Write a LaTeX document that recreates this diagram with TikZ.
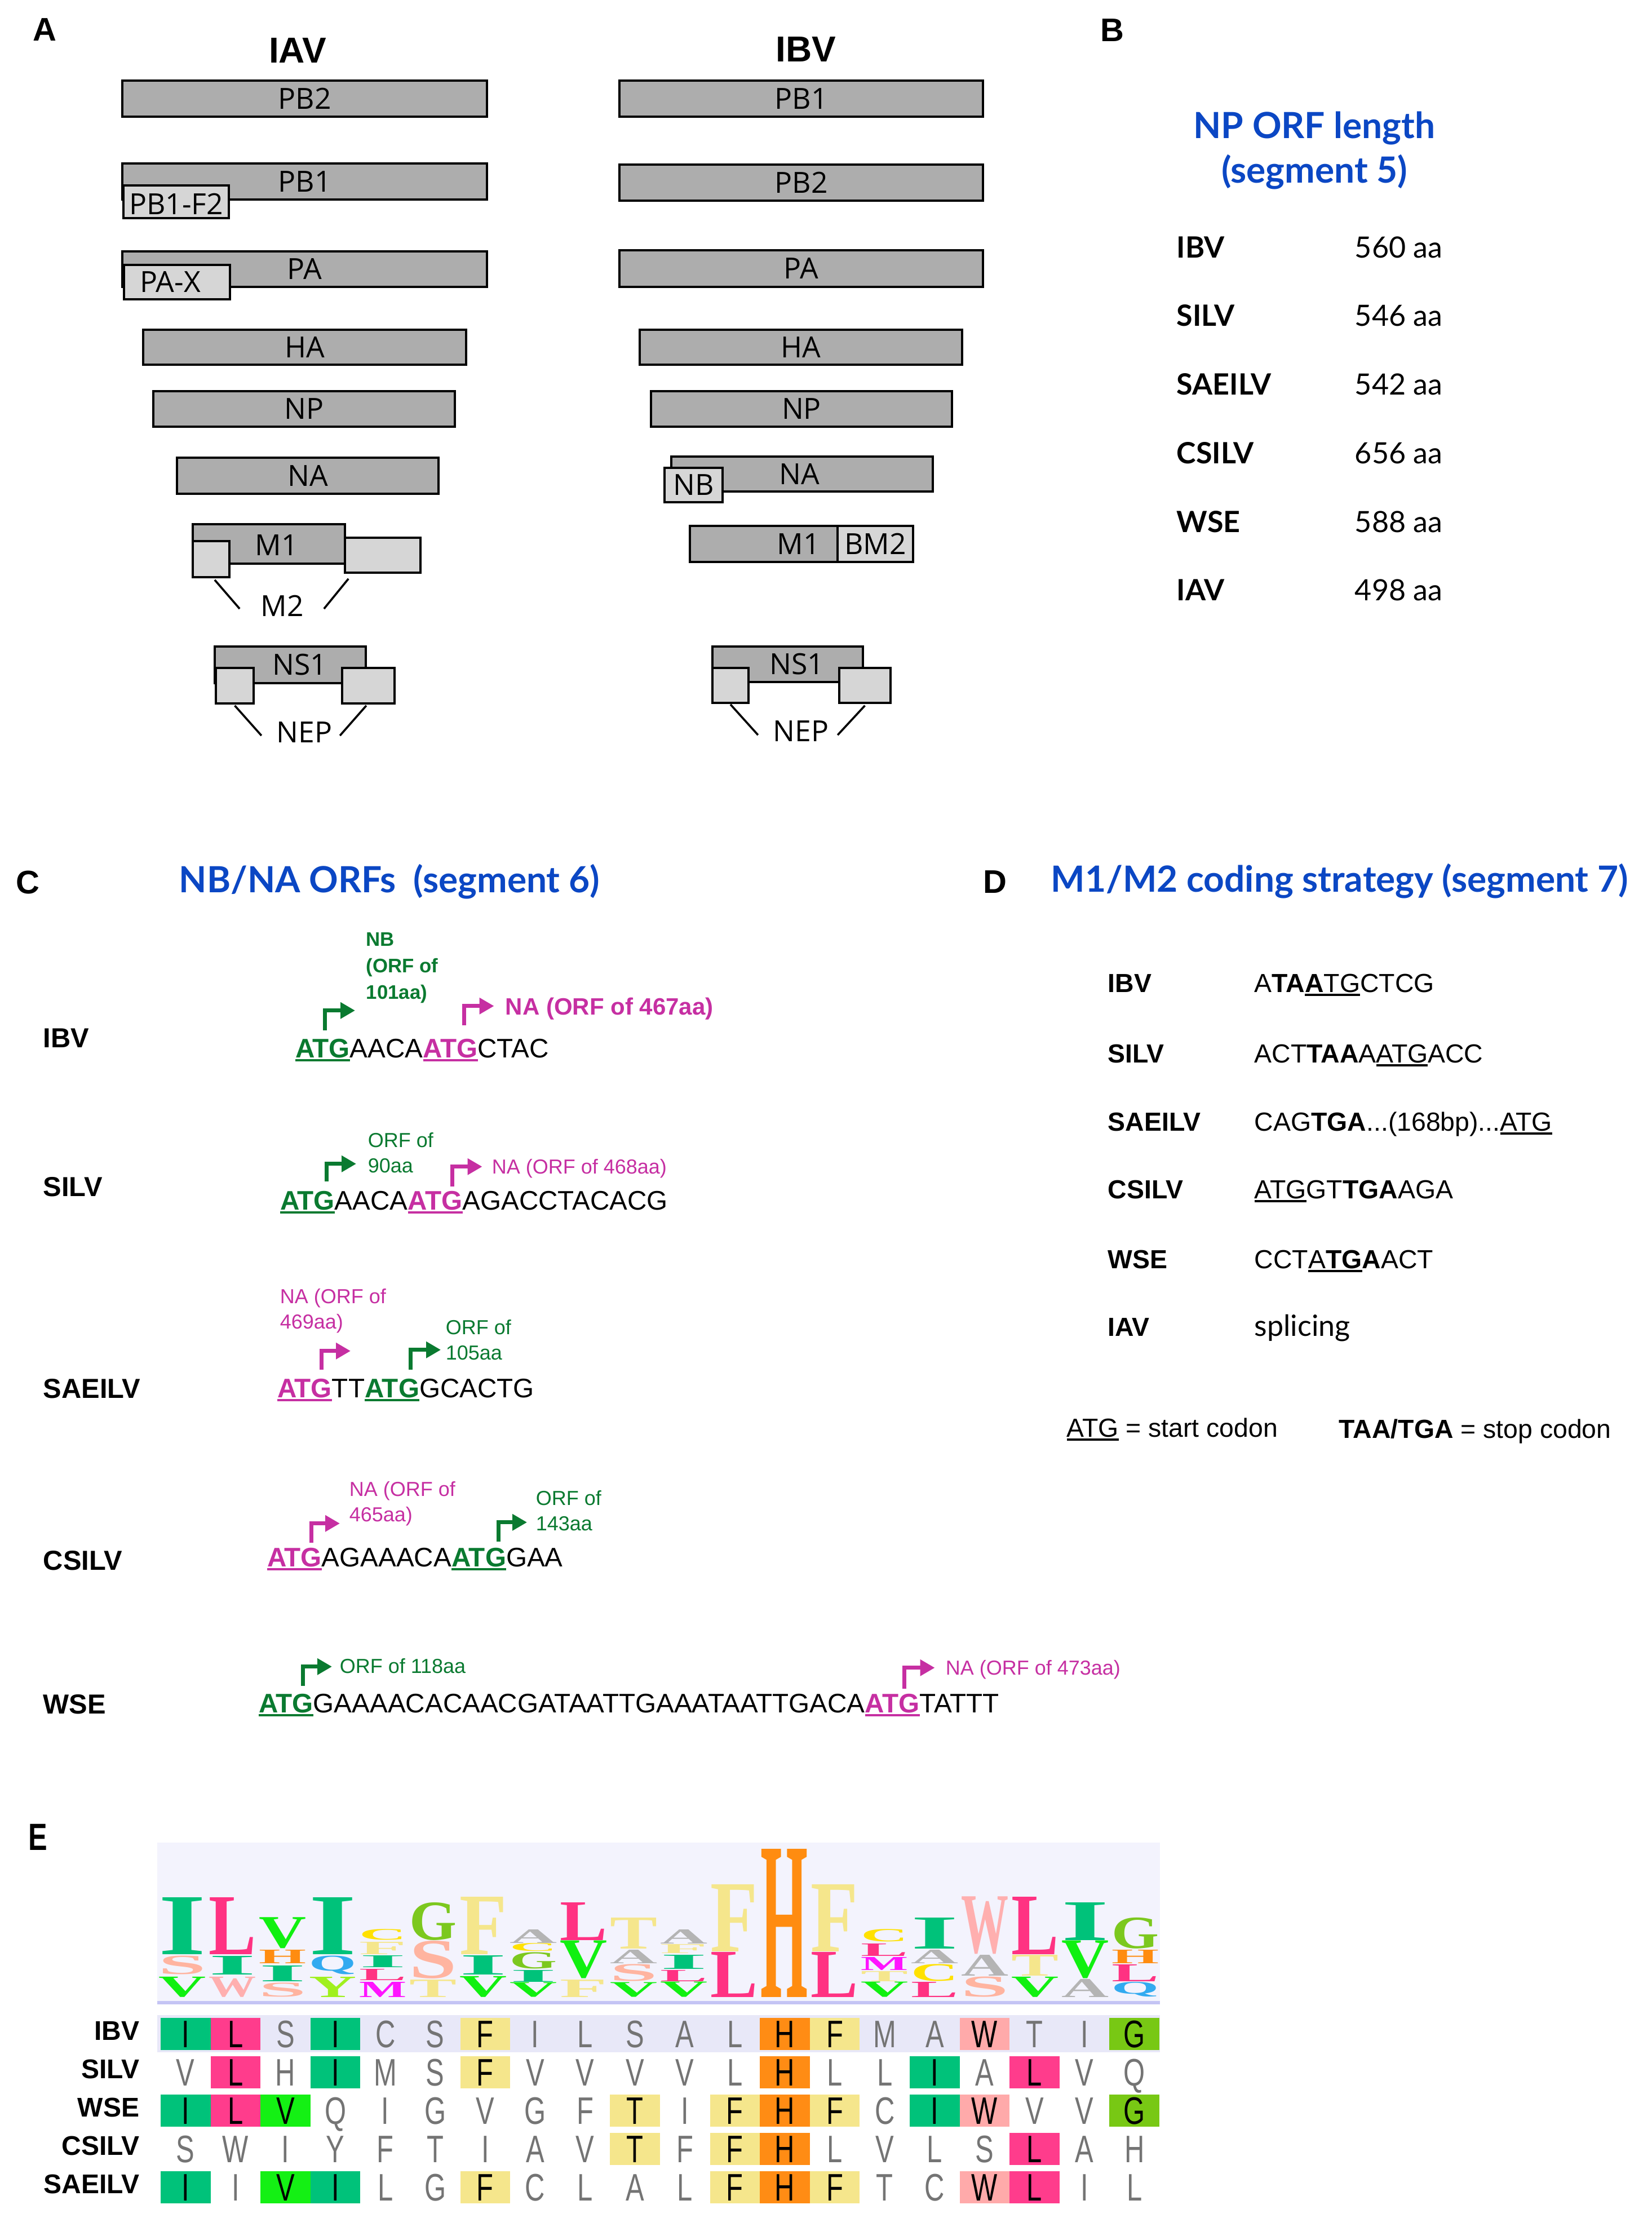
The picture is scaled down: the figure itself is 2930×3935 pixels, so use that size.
\documentclass[tikz,border=0pt]{standalone}
\usepackage{fontspec}
\usepackage{graphicx}
\usetikzlibrary{arrows.meta,fit,calc}
\setmainfont{Liberation Sans}
\newfontfamily\latof{Lato}
\newfontfamily\opsf{Open Sans}
\newfontfamily\serf{Liberation Serif}
\newfontfamily\alnf{Liberation Sans}[FakeStretch=0.72]
\newfontfamily\narf{Liberation Sans}[FakeStretch=0.75]
\newcommand\fsz[2]{\fontsize{#1pt}{#2pt}\selectfont}
\newcommand\ulin[1]{{\setbox0=\hbox{#1}\rlap{\rule[-1.7pt]{\wd0}{0.85pt}}\box0}}
\definecolor{gdark}{HTML}{ADADAD}
\definecolor{glight}{HTML}{D6D6D6}
\definecolor{tblue}{HTML}{0B47C4}
\definecolor{cgreen}{HTML}{0A7A30}
\definecolor{cmag}{HTML}{C62FA2}
\definecolor{logobg}{HTML}{F3F3FD}
\definecolor{logoline}{HTML}{C4C4F4}
\definecolor{rowbg}{HTML}{E8E8F8}
\definecolor{tk}{HTML}{000000}
\definecolor{tg}{HTML}{747474}
\definecolor{aI}{HTML}{00C27A}
\definecolor{aL}{HTML}{FF3C8C}
\definecolor{aV}{HTML}{14F014}
\definecolor{aF}{HTML}{F5E68C}
\definecolor{aH}{HTML}{FF8C14}
\definecolor{aW}{HTML}{FFAAAA}
\definecolor{aG}{HTML}{78C814}
\definecolor{lI}{HTML}{00C27A}
\definecolor{lL}{HTML}{FF3282}
\definecolor{lV}{HTML}{10F010}
\definecolor{lH}{HTML}{FF8C10}
\definecolor{lS}{HTML}{FFB4A0}
\definecolor{lW}{HTML}{FFAFAF}
\definecolor{lF}{HTML}{F5E68C}
\definecolor{lT}{HTML}{F5E68C}
\definecolor{lG}{HTML}{7CC81E}
\definecolor{lA}{HTML}{B4B4B4}
\definecolor{lC}{HTML}{FFE100}
\definecolor{lQ}{HTML}{32AAF0}
\definecolor{lY}{HTML}{A0F01E}
\definecolor{lM}{HTML}{FF14FF}
\newcommand\gATG{{\color{cgreen}\bfseries\ulin{ATG}}}
\newcommand\mATG{{\color{cmag}\bfseries\ulin{ATG}}}
\tikzset{
 gbox/.style={draw=black, line width=0.9pt, fill=gdark, inner sep=0pt},
 lbox/.style={draw=black, line width=0.9pt, fill=glight, inner sep=0pt},
 glab/.style={font=\opsf\fsz{12.9}{15}, inner sep=0pt, text height=9.2pt, text depth=0pt},
 sline/.style={line width=0.9pt},
 panel/.style={font=\bfseries\fsz{14.5}{17}, inner sep=0pt, anchor=base},
 vtitle/.style={font=\bfseries\fsz{16}{19}, inner sep=0pt, anchor=base},
 btitle/.style={font=\latof\bfseries\fsz{16}{19}, text=tblue, inner sep=0pt, anchor=base},
 blab/.style={font=\latof\bfseries\fsz{13}{15}, inner sep=0pt, anchor=base west},
 bval/.style={font=\latof\fsz{13}{15}, inner sep=0pt, anchor=base west},
 ctitle/.style={font=\latof\bfseries\fsz{16}{19}, text=tblue, inner sep=0pt, anchor=base west},
 rowlab/.style={font=\bfseries\fsz{12.2}{14}, inner sep=0pt, anchor=base west},
 seqn/.style={font=\fsz{11.9}{14}, inner sep=0pt, outer sep=0pt, anchor=base west},
 glbl/.style={font=\fsz{9}{11.25}, text=cgreen, inner sep=0pt, anchor=base west, align=left},
 mlbl/.style={font=\fsz{9}{11.25}, text=cmag, inner sep=0pt, anchor=base west, align=left},
 garr/.style={draw=cgreen, line width=1.75pt, -{Triangle[length=6.5pt,width=7pt]}},
 marr/.style={draw=cmag, line width=1.75pt, -{Triangle[length=6.5pt,width=7pt]}},
 dlab/.style={font=\bfseries\fsz{11.6}{14}, inner sep=0pt, anchor=base west},
 dseq/.style={font=\fsz{11.6}{14}, inner sep=0pt, anchor=base west},
 alnl/.style={font=\alnf\fsz{17}{20}, inner sep=0pt, text height=12.2pt, text depth=0pt},
 elab/.style={font=\bfseries\fsz{12}{14}, inner sep=0pt, anchor=east, text height=8.6pt, text depth=0pt},
 cI/.style={fill=aI}, cL/.style={fill=aL}, cV/.style={fill=aV}, cF/.style={fill=aF},
 cH/.style={fill=aH}, cW/.style={fill=aW}, cG/.style={fill=aG}, c0/.style={},
}
\newcommand\alnrow[3]{%
 \node[elab] (elab#1) at (248,{3602+68*(#1-1)}) {#2};
 \foreach \L/\C/\T [count=\i] in {#3}{%
   \pgfmathsetmacro\xa{285+88.6*(\i-1)}%
   \pgfmathsetmacro\ya{3580+68*(#1-1)}%
   \path[\C] (\xa,\ya) rectangle ++(88.6,57);
   \node[alnl,text=\T] (al#1-\i) at (\xa+44.3,\ya+28.5) {\L};
 }}
\begin{document}
\begin{tikzpicture}[x=0.25pt,y=-0.25pt]
\useasboundingbox (0,0) rectangle (2930,3935);
\fill[white] (0,0) rectangle (2930,3935);

% ---------------- Panel A ----------------
\node[panel] (pA) at (79,73) {A};
\node[vtitle] (tIAV) at (528,112) {IAV};
\node[vtitle] (tIBV) at (1430,110) {IBV};

% IAV
\node[gbox, fit={(217,143) (864,207)}] (aPB2) {};
\node[glab] (aPB2t) at (aPB2.center) {PB2};
\node[gbox, fit={(217,290) (864,354)}] (aPB1) {};
\node[glab] (aPB1t) at (aPB1.center) {PB1};
\node[lbox, fit={(219,329) (406,387)}] (aPBF) {};
\node[glab] (aPBFt) at ([yshift=-1pt]aPBF.center) {PB1-F2};
\node[gbox, fit={(217,446) (864,509)}] (aPA) {};
\node[glab] (aPAt) at (aPA.center) {PA};
\node[lbox, fit={(220,470) (408,531)}] (aPAX) {};
\node[glab] (aPAXt) at ([xshift=-3pt]aPAX.center) {PA-X};
\node[gbox, fit={(254,585) (827,647)}] (aHA) {};
\node[glab] (aHAt) at (aHA.center) {HA};
\node[gbox, fit={(272,694) (807,757)}] (aNP) {};
\node[glab] (aNPt) at (aNP.center) {NP};
\node[gbox, fit={(314,812) (778,876)}] (aNA) {};
\node[glab] (aNAt) at (aNA.center) {NA};
\node[gbox, fit={(342,930) (612,1000)}] (aM1) {};
\node[glab] (aM1t) at ([xshift=3.5pt,yshift=-0.5pt]aM1.center) {M1};
\node[lbox, fit={(342,960) (407,1024)}] (aM2l) {};
\node[lbox, fit={(612,954) (746,1016)}] (aM2r) {};
\node[glab] (aM2t) at (501,1075) {M2};
\draw[sline] ([xshift=1.6pt,yshift=-0.75pt]aM2l.south) -- ([xshift=-9.25pt,yshift=-1.25pt]aM2t.west);
\draw[sline] ([xshift=2pt,yshift=-2.25pt]aM2r.south west) -- ([xshift=8.75pt,yshift=-1.25pt]aM2t.east);
\node[gbox, fit={(381,1147) (649,1212)}] (aNS1) {};
\node[glab] (aNS1t) at ([xshift=4.25pt]aNS1.center) {NS1};
\node[lbox, fit={(383,1185) (450,1248)}] (aNl) {};
\node[lbox, fit={(607,1185) (700,1248)}] (aNr) {};
\node[glab] (aNEP) at (540,1299) {NEP};
\draw[sline] ([yshift=-0.5pt]aNl.south) -- ([xshift=-6.5pt,yshift=-1.5pt]aNEP.west);
\draw[sline] ([xshift=-0.9pt,yshift=-0.5pt]aNr.south) -- ([xshift=3.25pt,yshift=-1.5pt]aNEP.east);

% IBV
\node[gbox, fit={(1099,143) (1744,207)}] (bPB1) {};
\node[glab] (bPB1t) at (bPB1.center) {PB1};
\node[gbox, fit={(1099,292) (1744,356)}] (bPB2) {};
\node[glab] (bPB2t) at (bPB2.center) {PB2};
\node[gbox, fit={(1099,444) (1744,509)}] (bPA) {};
\node[glab] (bPAt) at (bPA.center) {PA};
\node[gbox, fit={(1135,585) (1707,647)}] (bHA) {};
\node[glab] (bHAt) at (bHA.center) {HA};
\node[gbox, fit={(1155,694) (1689,757)}] (bNP) {};
\node[glab] (bNPt) at (bNP.center) {NP};
\node[gbox, fit={(1191,810) (1655,872)}] (bNA) {};
\node[glab] (bNAt) at ([xshift=-1.25pt]bNA.center) {NA};
\node[lbox, fit={(1179,830) (1282,891)}] (bNB) {};
\node[glab] (bNBt) at (bNB.center) {NB};
\node[gbox, fit={(1224,933) (1486,997)}] (bM1) {};
\node[glab] (bM1t) at ([xshift=15.5pt]bM1.center) {M1};
\node[lbox, fit={(1486,933) (1620,997)}] (bBM2) {};
\node[glab] (bBM2t) at (bBM2.center) {BM2};
\node[gbox, fit={(1264,1147) (1531,1210)}] (bNS1) {};
\node[glab] (bNS1t) at ([xshift=4pt]bNS1.center) {NS1};
\node[lbox, fit={(1264,1185) (1328,1247)}] (bNl) {};
\node[lbox, fit={(1489,1185) (1580,1247)}] (bNr) {};
\node[glab] (bNEP) at (1421,1297) {NEP};
\draw[sline] ([yshift=-0.25pt]bNl.south) -- ([xshift=-6.5pt,yshift=-1.75pt]bNEP.west);
\draw[sline] ([yshift=-0.75pt]bNr.south) -- ([xshift=3.75pt,yshift=-1.75pt]bNEP.east);

% ---------------- Panel B ----------------
\node[panel] (pB) at (1973,74) {B};
\node[btitle] (bT1) at (2332,246) {NP ORF length};
\node[btitle] (bT2) at (2332,325) {(segment 5)};
\node[blab] (bl1) at (2087,458) {IBV};    \node[bval] (bv1) at (2403,458) {560 aa};
\node[blab] (bl2) at (2087,579) {SILV};   \node[bval] (bv2) at (2403,579) {546 aa};
\node[blab] (bl3) at (2087,701) {SAEILV}; \node[bval] (bv3) at (2403,701) {542 aa};
\node[blab] (bl4) at (2087,823) {CSILV};  \node[bval] (bv4) at (2403,823) {656 aa};
\node[blab] (bl5) at (2087,945) {WSE};    \node[bval] (bv5) at (2403,945) {588 aa};
\node[blab] (bl6) at (2087,1066) {IAV};   \node[bval] (bv6) at (2403,1066) {498 aa};

% ---------------- Panel C ----------------
\node[panel] (pC) at (49,1585) {C};
\node[ctitle] (cT) at (317,1583) {NB/NA ORFs\ \ (segment 6)};
% IBV
\node[rowlab] (cr1) at (76,1858) {IBV};
\node[seqn] (c1a) at (524,1876) {\gATG};
\node[seqn] (c1b) at (c1a.base east) {AACA};
\node[seqn] (c1c) at (c1b.base east) {\mATG};
\node[seqn] (c1d) at (c1c.base east) {CTAC};
\node[glbl, font=\bfseries\fsz{8.7}{11.75}] (c1g) at (649,1772) {NB\\(ORF of\\101aa)};
\node[mlbl, font=\bfseries\fsz{10.5}{12}] (c1m) at (896,1800) {NA (ORF of 467aa)};
\draw[garr] ([shift={(52,-15)}]c1a.north west) -- ++(0,-35) -- ++(54,0);
\draw[marr] ([shift={(73,-24)}]c1c.north west) -- ++(0,-34) -- ++(53,0);
% SILV
\node[rowlab] (cr2) at (76,2122) {SILV};
\node[seqn] (c2a) at (497,2146) {\gATG};
\node[seqn] (c2b) at (c2a.base east) {AACA};
\node[seqn] (c2c) at (c2b.base east) {\mATG};
\node[seqn] (c2d) at (c2c.base east) {AGACCTACACG};
\node[glbl] (c2g) at (652,2080) {ORF of\\90aa};
\node[mlbl] (c2m) at (872,2082) {NA (ORF of 468aa)};
\draw[garr] ([shift={(82,-17)}]c2a.north west) -- ++(0,-31) -- ++(53,0);
\draw[marr] ([shift={(79,-8)}]c2c.north west) -- ++(0,-35) -- ++(53,0);
% SAEILV
\node[rowlab] (cr3) at (76,2480) {SAEILV};
\node[seqn] (c3a) at (492,2479) {\mATG};
\node[seqn] (c3b) at (c3a.base east) {TT};
\node[seqn] (c3c) at (c3b.base east) {\gATG};
\node[seqn] (c3d) at (c3c.base east) {GCACTG};
\node[mlbl] (c3m) at (496,2357) {NA (ORF of\\469aa)};
\node[glbl] (c3g) at (790,2412) {ORF of\\105aa};
\draw[marr] ([shift={(78,-16)}]c3a.north west) -- ++(0,-33) -- ++(52,0);
\draw[garr] ([shift={(81,-16)}]c3c.north west) -- ++(0,-35) -- ++(54,0);
% CSILV
\node[rowlab] (cr4) at (76,2785) {CSILV};
\node[seqn] (c4a) at (474,2779) {\mATG};
\node[seqn] (c4b) at (c4a.base east) {AGAAACA};
\node[seqn] (c4c) at (c4b.base east) {\gATG};
\node[seqn] (c4d) at (c4c.base east) {GAA};
\node[mlbl] (c4m) at (619,2699) {NA (ORF of\\465aa)};
\node[glbl] (c4g) at (950,2715) {ORF of\\143aa};
\draw[marr] ([shift={(78,-9)}]c4a.north west) -- ++(0,-34) -- ++(51,0);
\draw[garr] ([shift={(83,-11)}]c4c.north west) -- ++(0,-34) -- ++(51,0);
% WSE
\node[rowlab] (cr5) at (76,3040) {WSE};
\node[seqn] (c5a) at (459,3038) {\gATG};
\node[seqn] (c5b) at (c5a.base east) {GAAAACACAACGATAATTGAAATAATTGACA};
\node[seqn] (c5c) at (c5b.base east) {\mATG};
\node[seqn] (c5d) at (c5c.base east) {TATTT};
\node[glbl] (c5g) at (602,2968) {ORF of 118aa};
\node[mlbl] (c5m) at (1677,2971) {NA (ORF of 473aa)};
\draw[garr] ([shift={(78,-14)}]c5a.north west) -- ++(0,-34) -- ++(52,0);
\draw[marr] ([shift={(70,-9)}]c5c.north west) -- ++(0,-37) -- ++(54,0);

% ---------------- Panel D ----------------
\node[panel] (pD) at (1765,1584) {D};
\node[ctitle] (dT) at (1864,1582) {M1/M2 coding strategy (segment 7)};
\node[dlab] (dl1) at (1965,1760) {IBV};
\node[dseq] (ds1) at (2225,1760) {A\textbf{TA}\ulin{\textbf{A}TG}CTCG};
\node[dlab] (dl2) at (1965,1885) {SILV};
\node[dseq] (ds2) at (2225,1885) {ACT\textbf{TAA}A\ulin{ATG}ACC};
\node[dlab] (dl3) at (1965,2006) {SAEILV};
\node[dseq] (ds3) at (2225,2006) {CAG\textbf{TGA}...(168bp)...\ulin{ATG}};
\node[dlab] (dl4) at (1965,2126) {CSILV};
\node[dseq] (ds4) at (2225,2126) {\ulin{ATG}GT\textbf{TGA}AGA};
\node[dlab] (dl5) at (1965,2250) {WSE};
\node[dseq] (ds5) at (2225,2250) {CCT\ulin{A\textbf{TG}}\textbf{A}ACT};
\node[dlab] (dl6) at (1965,2370) {IAV};
\node[dseq, font=\latof\fsz{13}{15}] (ds6) at (2225,2370) {splicing};
\node[dseq] (dk1) at (1892,2549) {\ulin{ATG} = start codon};
\node[dseq] (dk2) at (2375,2551) {\textbf{TAA/TGA} = stop codon};

% ---------------- Panel E ----------------
\node[panel, font=\narf\bfseries\fsz{16.8}{19}] (pE) at (67,3282) {E};
\fill[logobg] (279,3269) rectangle (2058,3556);
\fill[logoline] (279,3550) rectangle (2058,3556);
\foreach \c/\t/\b/\L/\K in {
 1/3366/3467/I/lI, 1/3470/3503/S/lS, 1/3507/3543/V/lV,
 2/3366/3467/L/lL, 2/3470/3503/I/lI, 2/3507/3543/W/lW,
 3/3402/3457/V/lV, 3/3459/3483/H/lH, 3/3487/3515/I/lI, 3/3518/3543/S/lS,
 4/3366/3467/I/lI, 4/3470/3503/Q/lQ, 4/3507/3543/Y/lY,
 5/3423/3442/C/lC, 5/3445/3467/F/lF, 5/3469/3490/I/lI, 5/3493/3513/L/lL, 5/3516/3543/M/lM,
 6/3375/3442/G/lG, 6/3443/3510/S/lS, 6/3512/3543/T/lT,
 7/3365/3467/F/lF, 7/3469/3503/I/lI, 7/3506/3543/V/lV,
 8/3423/3447/A/lA, 8/3448/3462/C/lC, 8/3464/3493/G/lG, 8/3495/3516/I/lI, 8/3517/3543/V/lV,
 9/3375/3442/L/lL, 9/3443/3510/V/lV, 9/3512/3543/F/lF,
 10/3402/3457/T/lT, 10/3459/3483/A/lA, 10/3485/3515/S/lS, 10/3517/3543/V/lV,
 11/3423/3448/A/lA, 11/3449/3465/F/lF, 11/3468/3493/I/lI, 11/3495/3515/L/lL, 11/3516/3543/V/lV,
 12/3343/3462/F/lF, 12/3463/3543/L/lL,
 13/3280/3543/H/lH,
 14/3343/3462/F/lF, 14/3463/3543/L/lL,
 15/3423/3445/C/lC, 15/3448/3470/L/lL, 15/3472/3495/M/lM, 15/3497/3515/T/lT, 15/3516/3543/V/lV,
 16/3402/3457/I/lI, 16/3459/3483/A/lA, 16/3485/3515/C/lC, 16/3516/3543/L/lL,
 17/3365/3467/W/lW, 17/3468/3505/A/lA, 17/3507/3543/S/lS,
 18/3365/3467/L/lL, 18/3468/3505/T/lT, 18/3507/3543/V/lV,
 19/3375/3442/I/lI, 19/3443/3510/V/lV, 19/3511/3543/A/lA,
 20/3402/3457/G/lG, 20/3459/3483/H/lH, 20/3485/3515/L/lL, 20/3517/3543/Q/lQ}{%
  \pgfmathsetlengthmacro\lgh{(\b-\t)*0.25}%
  \pgfmathsetmacro\lgx{278.6+89*(\c-0.5)}%
  \node[inner sep=0pt, outer sep=0pt, anchor=south, text=\K] (lg\c-\t) at (\lgx,\b) {\resizebox*{21pt}{\lgh}{\serf\bfseries \L}};
}
\fill[rowbg] (279,3575) rectangle (2058,3641);
\alnrow{1}{IBV}{I/cI/tk,L/cL/tk,S/c0/tg,I/cI/tk,C/c0/tg,S/c0/tg,F/cF/tk,I/c0/tg,L/c0/tg,S/c0/tg,A/c0/tg,L/c0/tg,H/cH/tk,F/cF/tk,M/c0/tg,A/c0/tg,W/cW/tk,T/c0/tg,I/c0/tg,G/cG/tk}
\alnrow{2}{SILV}{V/c0/tg,L/cL/tk,H/c0/tg,I/cI/tk,M/c0/tg,S/c0/tg,F/cF/tk,V/c0/tg,V/c0/tg,V/c0/tg,V/c0/tg,L/c0/tg,H/cH/tk,L/c0/tg,L/c0/tg,I/cI/tk,A/c0/tg,L/cL/tk,V/c0/tg,Q/c0/tg}
\alnrow{3}{WSE}{I/cI/tk,L/cL/tk,V/cV/tk,Q/c0/tg,I/c0/tg,G/c0/tg,V/c0/tg,G/c0/tg,F/c0/tg,T/cF/tk,I/c0/tg,F/cF/tk,H/cH/tk,F/cF/tk,C/c0/tg,I/cI/tk,W/cW/tk,V/c0/tg,V/c0/tg,G/cG/tk}
\alnrow{4}{CSILV}{S/c0/tg,W/c0/tg,I/c0/tg,Y/c0/tg,F/c0/tg,T/c0/tg,I/c0/tg,A/c0/tg,V/c0/tg,T/cF/tk,F/c0/tg,F/cF/tk,H/cH/tk,L/c0/tg,V/c0/tg,L/c0/tg,S/c0/tg,L/cL/tk,A/c0/tg,H/c0/tg}
\alnrow{5}{SAEILV}{I/cI/tk,I/c0/tg,V/cV/tk,I/cI/tk,L/c0/tg,G/c0/tg,F/cF/tk,C/c0/tg,L/c0/tg,A/c0/tg,L/c0/tg,F/cF/tk,H/cH/tk,F/cF/tk,T/c0/tg,C/c0/tg,W/cW/tk,L/cL/tk,I/c0/tg,L/c0/tg}
\end{tikzpicture}
\end{document}
